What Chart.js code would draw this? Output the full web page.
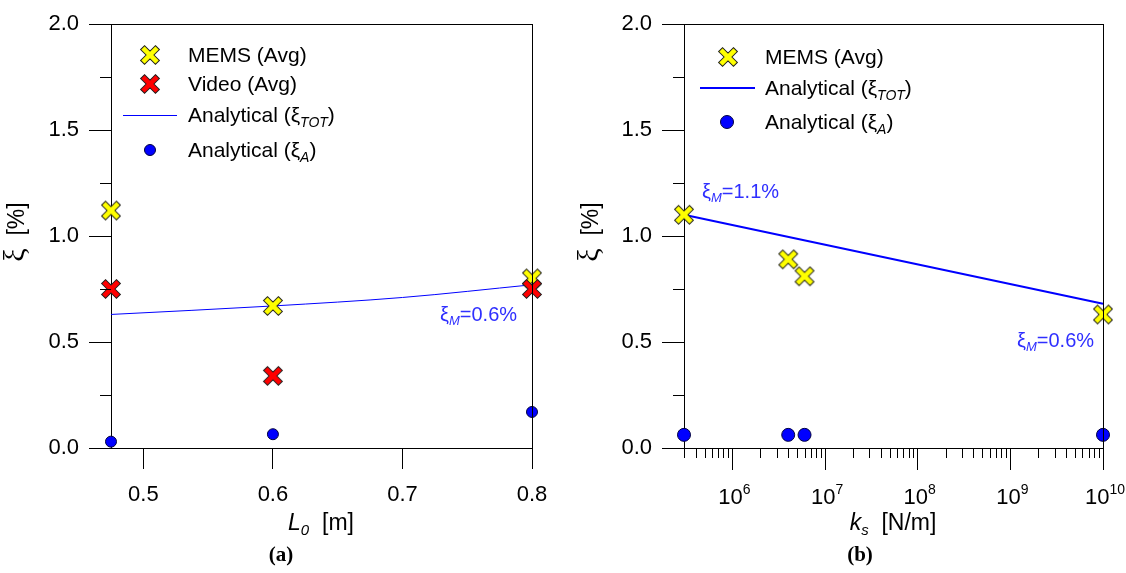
<!DOCTYPE html>
<html>
<head>
<meta charset="utf-8">
<script src="https://cdn.jsdelivr.net/npm/chart.js@4.4.1/dist/chart.umd.min.js"></script>
<style>
  html, body { margin: 0; padding: 0; background: #fff; }
  #wrap { position: relative; width: 1126px; height: 573px; }
  .box { position: absolute; top: 0; width: 563px; height: 573px; }
</style>
</head>
<body>
<div id="wrap">
  <div class="box" style="left:0"><canvas id="chartA"></canvas></div>
  <div class="box" style="left:563px"><canvas id="chartB"></canvas></div>
</div>
<script>
// (a) damping against free length L0
const lengths = [0.475, 0.6, 0.8];
const memsA = [1.12, 0.67, 0.80];
const videoA = [0.75, 0.34, 0.75];
const xiAA = [0.03, 0.065, 0.17];
const totLengths = [0.475, 0.6, 0.7, 0.8];
const totA = [0.63, 0.67, 0.71, 0.77];
const lengthTicks = [0.5, 0.6, 0.7, 0.8];

// (b) damping against support stiffness ks
const stiffness = [3e5, 4e6, 6e6, 1e10];
const memsB = [1.10, 0.89, 0.81, 0.63];
const xiAB = [0.062, 0.062, 0.062, 0.062];
const totStiffness = [3e5, 1e10];
const totB = [1.10, 0.68];
const stiffTicks = [1e6, 1e7, 1e8, 1e9, 1e10];

const xiMinor = [0.25, 0.75, 1.25, 1.75];

const FONT = '"Liberation Sans", Arial, sans-serif';
const SERIF = '"Liberation Serif", "Times New Roman", serif';
const BLUE = '#0000ff';
const NOTE = '#2f2fff';

// thick X marker with dark outline
function makeCross(fill) {
  const c = document.createElement('canvas');
  c.width = 24; c.height = 24;
  const g = c.getContext('2d');
  g.translate(12, 12);
  g.rotate(Math.PI / 4);
  const a = 2.8, L = 10.5;
  g.beginPath();
  g.moveTo(-a, -L); g.lineTo(a, -L); g.lineTo(a, -a); g.lineTo(L, -a);
  g.lineTo(L, a); g.lineTo(a, a); g.lineTo(a, L); g.lineTo(-a, L);
  g.lineTo(-a, a); g.lineTo(-L, a); g.lineTo(-L, -a); g.lineTo(-a, -a);
  g.closePath();
  g.fillStyle = fill;
  g.fill();
  g.lineWidth = 1;
  g.strokeStyle = '#222';
  g.stroke();
  return c;
}
const yellowX = makeCross('#ffff00');
const redX = makeCross('#ff0000');

const pts = (xs, ys) => xs.map((x, i) => ({ x: x, y: ys[i] }));

// text made of runs: [text, size, style, dy, family]
function rich(ctx, x, y, parts, align, color) {
  ctx.save();
  ctx.fillStyle = color || '#000';
  ctx.textBaseline = 'alphabetic';
  ctx.textAlign = 'left';
  const fnt = p => (p[2] || 'normal') + ' ' + p[1] + 'px ' + (p[4] || FONT);
  let w = 0;
  parts.forEach(p => { ctx.font = fnt(p); w += ctx.measureText(p[0]).width; });
  let cx = align === 'center' ? x - w / 2 : x;
  parts.forEach(p => {
    ctx.font = fnt(p);
    ctx.fillText(p[0], cx, y + (p[3] || 0));
    cx += ctx.measureText(p[0]).width;
  });
  ctx.restore();
}

function dot(ctx, x, y, r) {
  ctx.beginPath();
  ctx.arc(x, y, r, 0, Math.PI * 2);
  ctx.fillStyle = BLUE;
  ctx.fill();
  ctx.lineWidth = 1;
  ctx.strokeStyle = '#000040';
  ctx.stroke();
}

function tick(ctx, x1, y1, x2, y2) {
  ctx.beginPath();
  ctx.moveTo(x1, y1);
  ctx.lineTo(x2, y2);
  ctx.stroke();
}

function yAxis(width) {
  return {
    type: 'linear', min: 0, max: 2,
    ticks: { stepSize: 0.5, callback: v => v.toFixed(1), color: '#000', font: { family: FONT, size: 22 }, padding: 10 },
    grid: { drawOnChartArea: false, tickLength: 22, color: '#000', tickColor: '#000' },
    border: { color: '#000', width: 1 },
    afterFit: s => { s.width = width; }
  };
}

function yTitle(ctx, x) {
  ctx.save();
  ctx.translate(x, 232);
  ctx.rotate(-Math.PI / 2);
  rich(ctx, 0, 0, [['ξ', 30, 'normal', 0, SERIF], ['  [%]', 23]], 'center');
  ctx.restore();
}

// frame, minor ticks, legend, notes and titles
const extras = {
  id: 'extras',
  afterDraw(chart, args, opts) {
    const ctx = chart.ctx;
    const a = chart.chartArea;
    ctx.save();
    ctx.strokeStyle = '#000';
    ctx.lineWidth = 1;
    tick(ctx, a.left, a.top + 0.5, a.right + 0.5, a.top + 0.5);
    tick(ctx, a.right + 0.5, a.top, a.right + 0.5, a.bottom);
    const ys = chart.scales.y;
    xiMinor.forEach(v => {
      const p = Math.round(ys.getPixelForValue(v)) + 0.5;
      tick(ctx, a.left - 11, p, a.left, p);
    });
    opts.draw(ctx, chart, a, opts.offset);
    ctx.restore();
  }
};

const common = {
  responsive: true,
  maintainAspectRatio: false,
  animation: false,
  events: [],
  devicePixelRatio: 1
};

new Chart(document.getElementById('chartA'), {
  type: 'scatter',
  data: {
    datasets: [
      { label: 'Video (Avg)', data: pts(lengths, videoA), pointStyle: redX, order: 0, clip: false },
      { label: 'MEMS (Avg)', data: pts(lengths, memsA), pointStyle: yellowX, order: 1, clip: false },
      { label: 'Analytical (ξTOT)', data: pts(totLengths, totA), showLine: true, borderColor: BLUE, borderWidth: 1,
        pointRadius: 0, cubicInterpolationMode: 'monotone', order: 2, clip: false },
      { label: 'Analytical (ξA)', data: pts(lengths, xiAA), pointStyle: 'circle', pointRadius: 5.5,
        backgroundColor: BLUE, borderColor: '#000040', borderWidth: 1, order: 3, clip: false }
    ]
  },
  options: Object.assign({}, common, {
    layout: { padding: { left: 0, right: 31, top: 24, bottom: 0 } },
    scales: {
      x: {
        type: 'linear', min: 0.475, max: 0.8,
        afterBuildTicks: s => { s.ticks = lengthTicks.map(v => ({ value: v })); },
        ticks: { callback: v => v.toFixed(1), color: '#000', font: { family: FONT, size: 22 }, padding: 13, maxRotation: 0, autoSkip: false },
        grid: { drawOnChartArea: false, tickLength: 21, color: '#000', tickColor: '#000' },
        border: { color: '#000', width: 1 },
        afterFit: s => { s.height = 125; }
      },
      y: yAxis(111)
    },
    plugins: {
      legend: { display: false },
      tooltip: { enabled: false },
      extras: {
        offset: 0,
        draw(ctx, chart, a, off) {
          // legend
          ctx.drawImage(yellowX, 150 - 12, 55 - 12);
          ctx.drawImage(redX, 150 - 12, 84 - 12);
          ctx.strokeStyle = BLUE;
          tick(ctx, 123, 115.5, 177, 115.5);
          dot(ctx, 150, 150, 5.5);
          rich(ctx, 188, 62, [['MEMS (Avg)', 21]]);
          rich(ctx, 188, 91, [['Video (Avg)', 21]]);
          rich(ctx, 188, 122, [['Analytical (ξ', 21], ['TOT', 14, 'italic', 5], [')', 21]]);
          rich(ctx, 188, 157, [['Analytical (ξ', 21], ['A', 14, 'italic', 5], [')', 21]]);
          // note
          rich(ctx, 440, 321, [['ξ', 20], ['M', 13, 'italic', 4], ['=0.6%', 20]], 'left', NOTE);
          // titles
          yTitle(ctx, 24);
          rich(ctx, 321, 530, [['L', 23, 'italic'], ['0', 15, 'italic', 5], ['  [m]', 23]], 'center');
          rich(ctx, 281, 561, [['(a)', 21, 'bold', 0, SERIF]], 'center');
        }
      }
    }
  }),
  plugins: [extras]
});

new Chart(document.getElementById('chartB'), {
  type: 'scatter',
  data: {
    datasets: [
      { label: 'MEMS (Avg)', data: pts(stiffness, memsB), pointStyle: yellowX, order: 0, clip: false },
      { label: 'Analytical (ξTOT)', data: pts(totStiffness, totB), showLine: true, borderColor: BLUE, borderWidth: 2,
        pointRadius: 0, order: 1, clip: false },
      { label: 'Analytical (ξA)', data: pts(stiffness, xiAB), pointStyle: 'circle', pointRadius: 6.5,
        backgroundColor: BLUE, borderColor: '#000040', borderWidth: 1, order: 2, clip: false }
    ]
  },
  options: Object.assign({}, common, {
    layout: { padding: { left: 0, right: 23, top: 24, bottom: 0 } },
    scales: {
      x: {
        type: 'logarithmic', min: 3e5, max: 1e10,
        afterBuildTicks: s => { s.ticks = stiffTicks.map(v => ({ value: v })); },
        ticks: { display: false },
        grid: { drawOnChartArea: false, tickLength: 22, color: '#000', tickColor: '#000' },
        border: { color: '#000', width: 1 },
        afterFit: s => { s.height = 125; }
      },
      y: yAxis(121)
    },
    plugins: {
      legend: { display: false },
      tooltip: { enabled: false },
      extras: {
        offset: 563,
        draw(ctx, chart, a, off) {
          const xs = chart.scales.x;
          // minor log ticks
          ctx.strokeStyle = '#000';
          for (let d = 5; d < 10; d++) {
            for (let m = 2; m < 10; m++) {
              const v = m * Math.pow(10, d);
              if (v < 3e5 || v > 1e10) continue;
              const p = Math.round(xs.getPixelForValue(v)) + 0.5;
              tick(ctx, p, a.bottom, p, a.bottom + 10);
            }
          }
          // decade labels
          stiffTicks.forEach(v => {
            const p = xs.getPixelForValue(v);
            rich(ctx, p + 2, 504, [['10', 22], [String(Math.round(Math.log10(v))), 14, 'normal', -10]], 'center');
          });
          // legend
          ctx.drawImage(yellowX, 728 - off - 12, 57 - 12);
          ctx.strokeStyle = BLUE;
          ctx.lineWidth = 2;
          tick(ctx, 700 - off, 88, 755 - off, 88);
          ctx.lineWidth = 1;
          dot(ctx, 727 - off, 122, 6.5);
          rich(ctx, 765 - off, 64, [['MEMS (Avg)', 21]]);
          rich(ctx, 765 - off, 95, [['Analytical (ξ', 21], ['TOT', 14, 'italic', 5], [')', 21]]);
          rich(ctx, 765 - off, 129, [['Analytical (ξ', 21], ['A', 14, 'italic', 5], [')', 21]]);
          // notes
          rich(ctx, 702 - off, 198, [['ξ', 20], ['M', 13, 'italic', 4], ['=1.1%', 20]], 'left', NOTE);
          rich(ctx, 1017 - off, 347, [['ξ', 20], ['M', 13, 'italic', 4], ['=0.6%', 20]], 'left', NOTE);
          // titles
          yTitle(ctx, 598 - off);
          rich(ctx, 893 - off, 530, [['k', 23, 'italic'], ['s', 15, 'italic', 5], ['  [N/m]', 23]], 'center');
          rich(ctx, 860 - off, 561, [['(b)', 21, 'bold', 0, SERIF]], 'center');
        }
      }
    }
  }),
  plugins: [extras]
});
</script>
</body>
</html>
